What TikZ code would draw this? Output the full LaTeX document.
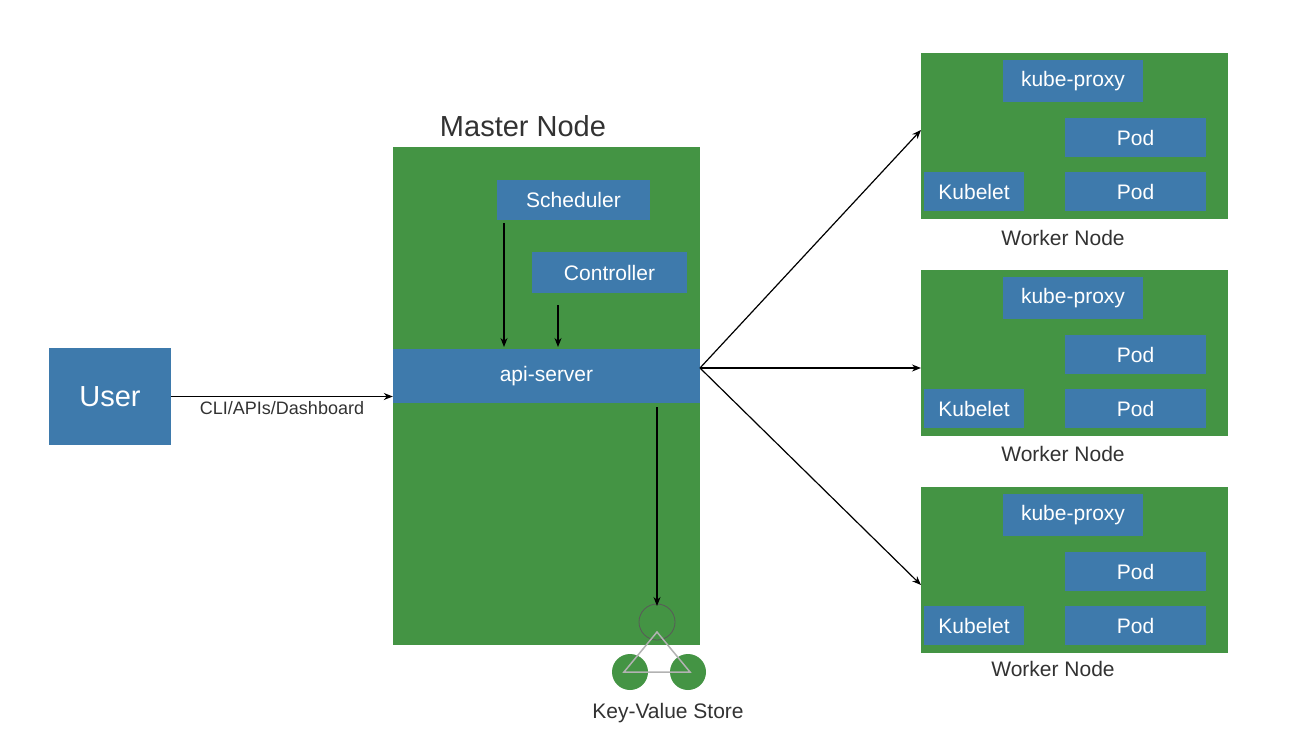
\documentclass[tikz,border=0pt]{standalone}
\usepackage{fontspec}
\setmainfont{Liberation Sans}
\usetikzlibrary{arrows.meta}
\definecolor{nodegreen}{RGB}{68,148,68}
\definecolor{compblue}{RGB}{62,122,172}
\definecolor{labelgray}{RGB}{50,50,50}
\tikzset{
  comp/.style={fill=compblue, text=white, inner sep=0pt, font=\fontsize{21}{21}\selectfont},
  host/.style={fill=nodegreen, inner sep=0pt},
  caption/.style={text=labelgray, font=\fontsize{21}{21}\selectfont},
  link/.style={-{Stealth[length=9pt,width=7pt]}, line width=1.2pt}
}
\begin{document}
\begin{tikzpicture}[x=1pt, y=-1pt]
		\useasboundingbox (0, 0) rectangle (1310, 750);
		
		% Master Node
		\node [host, minimum width=307, minimum height=498] (master) at (546.5, 396) {};
		\node [font=\fontsize{29}{29}\selectfont, text=labelgray] (masterlabel) at (523, 126) {Master Node};
		\node [comp, minimum width=153, minimum height=40] (scheduler) at (573.5, 200) {Scheduler};
		\node [comp, minimum width=155, minimum height=41] (controller) at (609.5, 272.5) {Controller};
		\node [comp, minimum width=307, minimum height=54] (api) at (546.5, 376) {api-server};
		
		% User
		\node [comp, minimum width=122, minimum height=97, font=\fontsize{29}{29}\selectfont] (user) at (110, 396.5) {User};
		
		% Key-Value Store
		\coordinate (kvtop) at (657, 622);
		\coordinate (kvleft) at (630, 672);
		\coordinate (kvright) at (688, 672);
		\fill [nodegreen] (kvleft) circle [radius=18];
		\fill [nodegreen] (kvright) circle [radius=18];
		\draw [gray!70!black, line width=0.8pt] (kvtop) circle [radius=18];
		\draw [gray!60, line width=1.5pt] (657, 632) -- (624, 672) -- (690, 672) -- cycle;
		\node [caption] (kvlabel) at (668, 713) {Key-Value Store};
		
		% Worker Nodes
		\foreach \i/\y in {1/0, 2/217, 3/434} {
			\node [host, minimum width=307, minimum height=166] (worker\i) at (1074.5, 136 + \y) {};
			\node [comp, minimum width=140, minimum height=42] (proxy\i) at (1073, 81 + \y) {kube-proxy};
			\node [comp, minimum width=141, minimum height=39] (poda\i) at (1135.5, 137.5 + \y) {Pod};
			\node [comp, minimum width=141, minimum height=39] (podb\i) at (1135.5, 191.5 + \y) {Pod};
			\node [comp, minimum width=100, minimum height=39] (kubelet\i) at (974, 191.5 + \y) {Kubelet};
		}
		\node [caption] (wlabel1) at (1063, 238) {Worker Node};
		\node [caption] (wlabel2) at (1063, 454) {Worker Node};
		\node [caption] (wlabel3) at (1053, 669) {Worker Node};
		
		% Connectors
		\draw [link] (user.east) -- (api.west |- user.east) node [midway, below=1pt, text=labelgray, font=\fontsize{18}{18}\selectfont] {CLI/APIs/Dashboard};
		\draw [link] (scheduler.south -| 504, 0) ++(0, 3) -- (504, 347);
		\draw [link] (558, 305) -- (558, 347);
		\draw [link] (657, 407) -- (657, 606);
		\coordinate (fanout) at (700, 368);
		\draw [link] (fanout) -- (921, 130);
		\draw [link] (fanout) -- (921, 368);
		\draw [link] (fanout) -- (921, 585);
\end{tikzpicture}
\end{document}
